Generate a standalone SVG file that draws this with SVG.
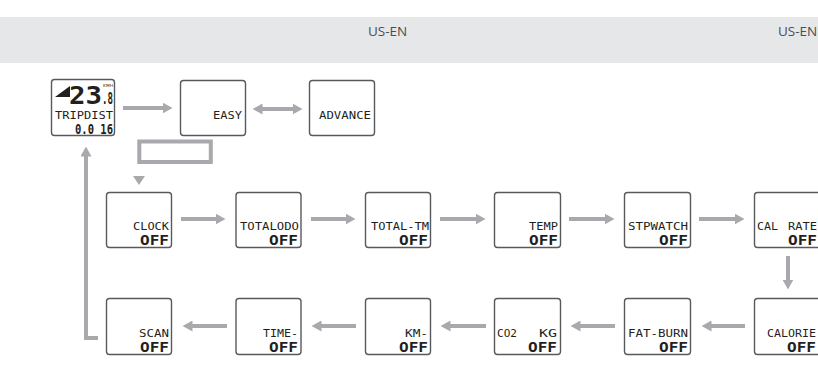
<svg xmlns="http://www.w3.org/2000/svg" width="818" height="366" viewBox="0 0 818 366">
<style>
.box{fill:#fff;stroke:#58595b;stroke-width:1.4}
.lbl{font-family:"DejaVu Sans Mono","Liberation Mono",monospace;font-size:11px;fill:#231f20;text-anchor:end}
.lbl.l{text-anchor:start}
.off{font-family:"DejaVu Sans Mono","Liberation Mono",monospace;font-size:13.5px;font-weight:bold;fill:#231f20;text-anchor:end}
.con{stroke:#a7a9ac;stroke-width:4;fill:none}
.hdr{font-family:"Open Sans","Liberation Sans",sans-serif;font-size:13.5px;fill:#4d4d4f}
</style>
<defs>
<marker id="ah" viewBox="0 0 10 11" markerWidth="10" markerHeight="11" refX="0.5" refY="5.5" orient="auto-start-reverse" markerUnits="userSpaceOnUse">
<path d="M0,0 L10,5.5 L0,11 Z" fill="#a7a9ac"/>
</marker>
</defs>
<rect x="0" y="17" width="818" height="46" fill="#e6e7e8"/>
<text class="hdr" x="368" y="36">US-EN</text>
<text class="hdr" x="778" y="36">US-EN</text>

<g id="connectors">
<line class="con" x1="123" y1="108" x2="163" y2="108" marker-end="url(#ah)"/>
<line class="con" x1="262" y1="109" x2="293" y2="109" marker-start="url(#ah)" marker-end="url(#ah)"/>
<rect class="con" x="139.3" y="141.5" width="71.5" height="20.5" stroke-width="4.5"/>
<polygon points="133,176 145,176 139,185" fill="#a7a9ac"/>
<line class="con" x1="181" y1="219" x2="216" y2="219" marker-end="url(#ah)"/>
<line class="con" x1="311" y1="219" x2="346" y2="219" marker-end="url(#ah)"/>
<line class="con" x1="440" y1="219" x2="476" y2="219" marker-end="url(#ah)"/>
<line class="con" x1="569" y1="219" x2="605" y2="219" marker-end="url(#ah)"/>
<line class="con" x1="699" y1="219" x2="735" y2="219" marker-end="url(#ah)"/>
<line class="con" x1="788" y1="256" x2="788" y2="280" marker-end="url(#ah)"/>
<line class="con" x1="745" y1="326" x2="711" y2="326" marker-end="url(#ah)"/>
<line class="con" x1="615" y1="326" x2="580" y2="326" marker-end="url(#ah)"/>
<line class="con" x1="486" y1="326" x2="450" y2="326" marker-end="url(#ah)"/>
<line class="con" x1="356" y1="326" x2="321" y2="326" marker-end="url(#ah)"/>
<line class="con" x1="227" y1="326" x2="192" y2="326" marker-end="url(#ah)"/>
<polyline class="con" points="98,338 86,338 86,156" marker-end="url(#ah)"/>
</g>

<g id="display">
<rect class="box" x="51.5" y="79.5" width="63" height="56" rx="3"/>
<polygon points="55,97 70,86 70,97" fill="#231f20"/>
<text x="102" y="103.5" font-family="DejaVu Sans Mono,monospace" font-size="25" font-weight="bold" fill="#231f20" text-anchor="end" textLength="33" lengthAdjust="spacingAndGlyphs">23</text>
<text x="102" y="103.5" font-family="DejaVu Sans Mono,monospace" font-size="15" font-weight="bold" fill="#231f20" textLength="11" lengthAdjust="spacingAndGlyphs">.8</text>
<text x="103" y="86.5" font-family="DejaVu Sans,sans-serif" font-size="4" fill="#231f20" textLength="10" lengthAdjust="spacingAndGlyphs">KMH</text>
<text class="lbl" x="113" y="119" textLength="58" lengthAdjust="spacingAndGlyphs">TRIPDIST</text>
<text class="off" x="113" y="133.5" font-size="14.5" textLength="38" lengthAdjust="spacingAndGlyphs">0.0 16</text>
</g>

<g id="easy">
<rect class="box" x="180.5" y="80.5" width="65" height="55" rx="3"/>
<text class="lbl" x="242" y="119" font-size="10.5" textLength="29" lengthAdjust="spacingAndGlyphs">EASY</text>
</g>
<g id="advance">
<rect class="box" x="309.5" y="80.5" width="65" height="55" rx="3"/>
<text class="lbl" x="371" y="119" font-size="10.5" textLength="52" lengthAdjust="spacingAndGlyphs">ADVANCE</text>
</g>

<g id="clock">
<rect class="box" x="106.5" y="192.5" width="65" height="55" rx="3"/>
<text class="lbl" x="169" y="230" textLength="36" lengthAdjust="spacingAndGlyphs">CLOCK</text>
<text class="off" x="169" y="245" textLength="29" lengthAdjust="spacingAndGlyphs">OFF</text>
</g>
<g id="totalodo">
<rect class="box" x="236" y="192.5" width="65" height="55" rx="3"/>
<text class="lbl" x="299" y="230" textLength="59" lengthAdjust="spacingAndGlyphs">TOTALODO</text>
<text class="off" x="298" y="245" textLength="29" lengthAdjust="spacingAndGlyphs">OFF</text>
</g>
<g id="totaltm">
<rect class="box" x="365.5" y="192.5" width="65" height="55" rx="3"/>
<text class="lbl" x="429" y="230" textLength="58" lengthAdjust="spacingAndGlyphs">TOTAL-TM</text>
<text class="off" x="428" y="245" textLength="29" lengthAdjust="spacingAndGlyphs">OFF</text>
</g>
<g id="temp">
<rect class="box" x="494.5" y="192.5" width="66" height="55" rx="3"/>
<text class="lbl" x="558" y="230" textLength="29" lengthAdjust="spacingAndGlyphs">TEMP</text>
<text class="off" x="558" y="245" textLength="29" lengthAdjust="spacingAndGlyphs">OFF</text>
</g>
<g id="stpwatch">
<rect class="box" x="624.5" y="192.5" width="66" height="55" rx="3"/>
<text class="lbl" x="688" y="230" textLength="60" lengthAdjust="spacingAndGlyphs">STPWATCH</text>
<text class="off" x="688" y="245" textLength="29" lengthAdjust="spacingAndGlyphs">OFF</text>
</g>
<g id="calrate">
<rect class="box" x="754.5" y="192.5" width="66" height="55" rx="3"/>
<text class="lbl l" x="757" y="230" textLength="21" lengthAdjust="spacingAndGlyphs">CAL</text>
<text class="lbl" x="817" y="230" textLength="29" lengthAdjust="spacingAndGlyphs">RATE</text>
<text class="off" x="817" y="245" textLength="29" lengthAdjust="spacingAndGlyphs">OFF</text>
</g>

<g id="scan">
<rect class="box" x="106.5" y="298.5" width="65" height="56" rx="3"/>
<text class="lbl" x="169" y="336.5" textLength="30" lengthAdjust="spacingAndGlyphs">SCAN</text>
<text class="off" x="169" y="351.5" textLength="29" lengthAdjust="spacingAndGlyphs">OFF</text>
</g>
<g id="time">
<rect class="box" x="236" y="298.5" width="65" height="56" rx="3"/>
<text class="lbl" x="298" y="336.5" textLength="35" lengthAdjust="spacingAndGlyphs">TIME-</text>
<text class="off" x="298" y="351.5" textLength="29" lengthAdjust="spacingAndGlyphs">OFF</text>
</g>
<g id="km">
<rect class="box" x="365.5" y="298.5" width="65" height="56" rx="3"/>
<text class="lbl" x="428" y="336.5" textLength="23" lengthAdjust="spacingAndGlyphs">KM-</text>
<text class="off" x="428" y="351.5" textLength="29" lengthAdjust="spacingAndGlyphs">OFF</text>
</g>
<g id="co2kg">
<rect class="box" x="494.5" y="298.5" width="66" height="56" rx="3"/>
<text class="lbl l" x="497" y="336.5" textLength="20" lengthAdjust="spacingAndGlyphs">CO2</text>
<text class="lbl" x="557" y="336.5" textLength="18" lengthAdjust="spacingAndGlyphs">KG</text>
<text class="off" x="557" y="351.5" textLength="29" lengthAdjust="spacingAndGlyphs">OFF</text>
</g>
<g id="fatburn">
<rect class="box" x="624.5" y="298.5" width="66" height="56" rx="3"/>
<text class="lbl" x="688" y="336.5" textLength="60" lengthAdjust="spacingAndGlyphs">FAT-BURN</text>
<text class="off" x="688" y="351.5" textLength="29" lengthAdjust="spacingAndGlyphs">OFF</text>
</g>
<g id="calorie">
<rect class="box" x="754.5" y="298.5" width="66" height="56" rx="3"/>
<text class="lbl" x="816" y="336.5" textLength="49" lengthAdjust="spacingAndGlyphs">CALORIE</text>
<text class="off" x="816" y="351.5" textLength="29" lengthAdjust="spacingAndGlyphs">OFF</text>
</g>
</svg>
